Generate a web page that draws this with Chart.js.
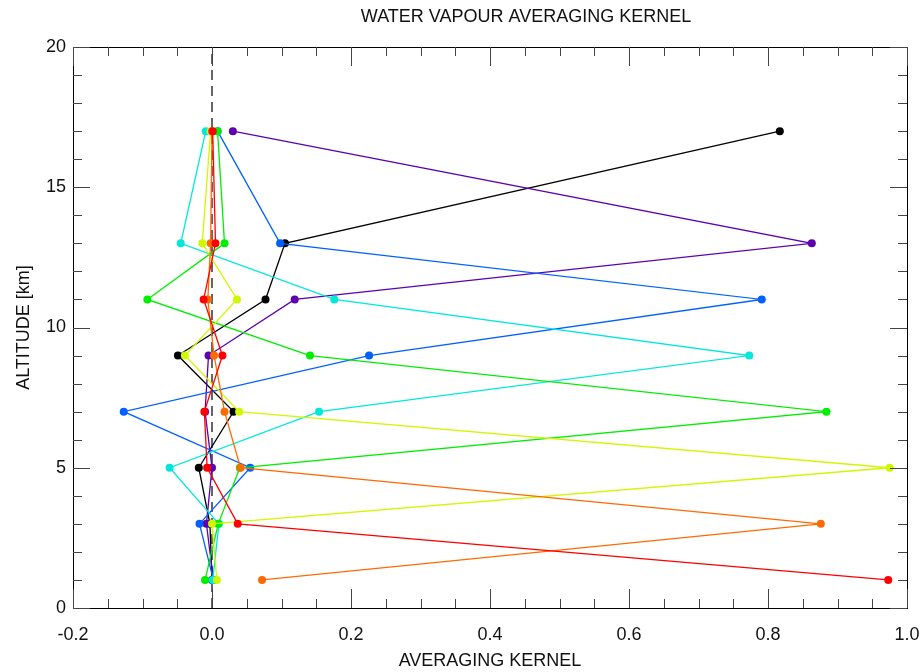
<!DOCTYPE html>
<html>
<head>
<meta charset="utf-8">
<script src="https://cdn.jsdelivr.net/npm/chart.js@4.4.0/dist/chart.umd.min.js"></script>
<style>
  html, body { margin: 0; padding: 0; background: #fff; }
  canvas { display: block; }
</style>
</head>
<body>
<canvas id="chart" width="922" height="672"></canvas>
<script>
// altitudes (km) of the kernel rows, bottom to top
const altitudes = [1, 3, 5, 7, 9, 11, 13, 17];

// averaging kernel values, one array per row, in altitude order
const akBlack  = [0.000, -0.003, -0.019, 0.031, -0.049, 0.077, 0.105, 0.817];
const akPurple = [0.002, -0.008, 0.000, -0.010, -0.005, 0.119, 0.863, 0.030];
const akBlue   = [0.002, -0.018, 0.055, -0.127, 0.226, 0.791, 0.098, 0.008];
const akCyan   = [0.001, 0.010, -0.061, 0.154, 0.773, 0.176, -0.045, -0.009];
const akGreen  = [-0.010, 0.009, 0.040, 0.884, 0.141, -0.093, 0.018, 0.008];
const akYellow = [0.007, 0.000, 0.975, 0.039, -0.039, 0.036, -0.014, -0.002];
const akOrange = [0.072, 0.876, 0.041, 0.018, 0.003, -0.006, -0.002, 0.000];
const akRed    = [0.973, 0.037, -0.007, -0.011, 0.015, -0.012, 0.005, 0.001];

const zeroLineX = [0, 0];
const zeroLineY = [0, 20];

const xTicks = [-0.2, 0.0, 0.2, 0.4, 0.6, 0.8, 1.0];
const yTicks = [0, 5, 10, 15, 20];

const TITLE = 'WATER VAPOUR AVERAGING KERNEL';
const FONT = '"Liberation Sans", Arial, Helvetica, sans-serif';

const series = [
  { data: akBlack,  color: '#000000' },
  { data: akPurple, color: '#5c00b0' },
  { data: akBlue,   color: '#0060ff' },
  { data: akCyan,   color: '#00e8dc' },
  { data: akGreen,  color: '#00ee00' },
  { data: akYellow, color: '#d0f800' },
  { data: akOrange, color: '#ff6a00' },
  { data: akRed,    color: '#ff0000' },
];

const datasets = series.map((s, i) => ({
  data: s.data.map((v, k) => ({ x: v, y: altitudes[k] })),
  showLine: true,
  borderColor: s.color,
  backgroundColor: s.color,
  borderWidth: 1.3,
  pointRadius: 4,
  pointBorderWidth: 0,
  order: series.length - 1 - i, // red on top
}));

datasets.push({
  data: zeroLineX.map((v, k) => ({ x: v, y: zeroLineY[k] })),
  showLine: true,
  borderColor: '#000',
  borderWidth: 1.2,
  borderDash: [10, 6],
  pointRadius: 0,
  order: 99,
});

// frame with inward ticks on all four sides, plus the title
const frame = {
  id: 'frame',
  afterDatasetsDraw(chart) {
    const { ctx, chartArea: a, scales: { x, y } } = chart;
    ctx.save();
    ctx.strokeStyle = '#000';
    ctx.lineWidth = 1;
    ctx.strokeRect(a.left + 0.5, a.top + 0.5, a.right - a.left, a.bottom - a.top);
    ctx.strokeStyle = '#444';
    ctx.beginPath();
    for (let i = 0; i <= 24; i++) {
      const px = Math.round(x.getPixelForValue(-0.2 + i * 0.05)) + 0.5;
      const len = i % 4 === 0 ? 19 : 9;
      ctx.moveTo(px, a.bottom); ctx.lineTo(px, a.bottom - len);
      ctx.moveTo(px, a.top); ctx.lineTo(px, a.top + len);
    }
    for (let i = 0; i <= 20; i++) {
      const py = Math.round(y.getPixelForValue(i)) + 0.5;
      const len = i % 5 === 0 ? 17 : 9;
      ctx.moveTo(a.left, py); ctx.lineTo(a.left + len, py);
      ctx.moveTo(a.right, py); ctx.lineTo(a.right - len, py);
    }
    ctx.stroke();
    ctx.fillStyle = '#111';
    ctx.font = '18px ' + FONT;
    ctx.textAlign = 'center';
    ctx.textBaseline = 'middle';
    ctx.fillText(TITLE, (a.left + a.right) / 2 + 36, 17);
    ctx.restore();
  },
};

new Chart(document.getElementById('chart'), {
  type: 'scatter',
  data: { datasets },
  plugins: [frame],
  options: {
    responsive: false,
    animation: false,
    devicePixelRatio: 1,
    layout: { padding: { top: 47, right: 15, left: 0, bottom: 0 } },
    plugins: { legend: { display: false }, tooltip: { enabled: false }, title: { display: false } },
    scales: {
      x: {
        type: 'linear',
        min: -0.2,
        max: 1.0,
        afterFit: (s) => { s.height = 64; s.paddingLeft = 0; s.paddingRight = 0; },
        afterBuildTicks: (s) => { s.ticks = xTicks.map((v) => ({ value: v })); },
        grid: { display: false, drawTicks: false },
        border: { display: false },
        ticks: {
          padding: 16,
          color: '#111',
          font: { family: FONT, size: 18 },
          callback: (v) => Number(v).toFixed(1),
        },
        title: {
          display: true,
          text: 'AVERAGING KERNEL',
          color: '#111',
          font: { family: FONT, size: 18 },
          padding: { top: 0, bottom: 0 },
        },
      },
      y: {
        type: 'linear',
        min: 0,
        max: 20,
        afterFit: (s) => { s.width = 73; s.paddingTop = 0; s.paddingBottom = 0; },
        afterBuildTicks: (s) => { s.ticks = yTicks.map((v) => ({ value: v })); },
        grid: { display: false, drawTicks: false },
        border: { display: false },
        ticks: {
          padding: 7,
          color: '#111',
          font: { family: FONT, size: 18 },
        },
        title: {
          display: true,
          text: 'ALTITUDE [km]',
          color: '#111',
          font: { family: FONT, size: 18 },
          padding: { top: 13, bottom: 0 },
        },
      },
    },
  },
});
</script>
</body>
</html>
